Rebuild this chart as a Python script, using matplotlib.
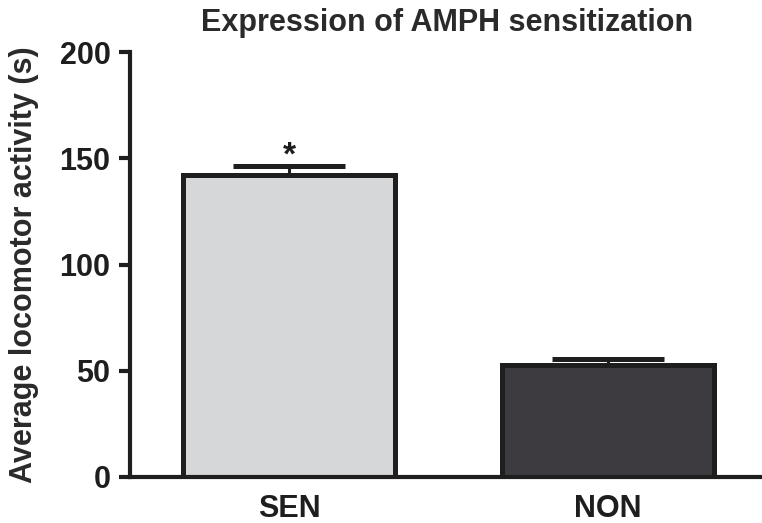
import matplotlib
matplotlib.use("Agg")
import matplotlib.pyplot as plt

plt.rcParams['font.family'] = ['Liberation Sans', 'DejaVu Sans']
plt.rcParams['font.weight'] = 'bold'

# group means and SEM (seconds)
groups = ['SEN', 'NON']
means = [142, 52.5]
sems = [4.5, 3.0]
fills = ['#d6d7d9', '#3d3b3f']
yticks = [0, 50, 100, 150, 200]

fig = plt.figure(figsize=(7.62, 5.23), dpi=100)
ax = fig.add_axes([130 / 762, 1 - 477 / 523, 632 / 762, 425 / 523])

x = list(range(len(groups)))
# upward-only error bars, drawn behind the bars
ax.errorbar(x, means, yerr=[[0] * len(sems), sems], fmt='none',
            ecolor='#1e1e1e', elinewidth=2.2, capsize=40, capthick=3.6, zorder=1)
ax.bar(x, means, width=0.665, color=fills, edgecolor='#1e1e1e',
       linewidth=3.6, zorder=2)

# significance marker above SEN
ax.text(x[0], means[0] + sems[0] + 4.5, '*', ha='center', va='center',
        fontsize=24, color='#1e1e1e')

ax.set_xlim(-0.5, 1.483)
ax.set_ylim(0, 200)
ax.set_yticks(yticks)
ax.set_xticks(x)
ax.set_xticklabels(groups, fontsize=22)
ax.tick_params(axis='y', labelsize=22, width=3, length=8, pad=6, color='#1e1e1e')
ax.tick_params(axis='x', length=0, pad=12)
for lab in ax.get_yticklabels() + ax.get_xticklabels():
    lab.set_color('#1e1e1e')

for side in ['top', 'right']:
    ax.spines[side].set_visible(False)
for side in ['left', 'bottom']:
    ax.spines[side].set_linewidth(3)
    ax.spines[side].set_color('#1e1e1e')
ax.spines['bottom'].set_zorder(3)

fig.text(447 / 762, 1 - 31 / 523, 'Expression of AMPH sensitization',
         ha='center', va='baseline', fontsize=22, color='#2a2a2a')
fig.text(24 / 762, 1 - 265 / 523, 'Average locomotor activity (s)',
         rotation=90, ha='center', va='center', fontsize=22, color='#2a2a2a')

fig.savefig('out.png', dpi=100)
